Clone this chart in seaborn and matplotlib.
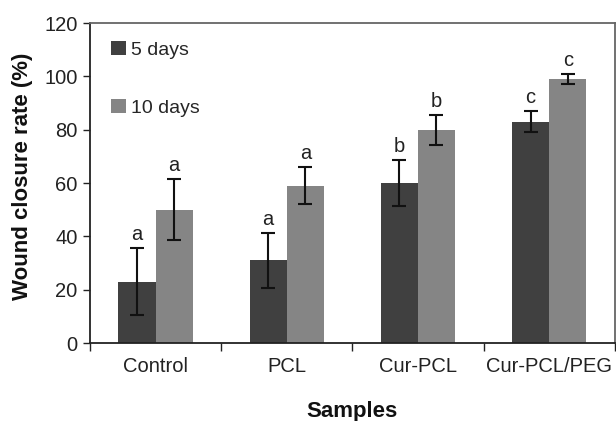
import matplotlib
matplotlib.use("Agg")
import matplotlib.pyplot as plt
import seaborn as sns
import pandas as pd
import numpy as np
from matplotlib.ticker import FixedLocator

categories = ["Control", "PCL", "Cur-PCL", "Cur-PCL/PEG"]
series = ["5 days", "10 days"]
vals_5 = [23, 31, 60, 83]
vals_10 = [50, 59, 80, 99]
err_5 = [12.5, 10.2, 8.7, 3.9]
err_10 = [11.5, 6.9, 5.6, 1.9]
letters_5 = ["a", "a", "b", "c"]
letters_10 = ["a", "a", "b", "c"]
yticks = [0, 20, 40, 60, 80, 100, 120]

sns.set_theme(style="white")
plt.rcParams['font.family'] = ['Liberation Sans', 'DejaVu Sans']

df = pd.DataFrame({
    "Samples": categories * 2,
    "Series": [series[0]] * 4 + [series[1]] * 4,
    "Rate": vals_5 + vals_10,
})

fig = plt.figure(figsize=(6.16, 4.21), dpi=100)
ax = fig.add_axes([0.146, 0.185, 0.852, 0.76])
colors = ["#404040", "#858585"]
sns.barplot(data=df, x="Samples", y="Rate", hue="Series", order=categories,
            hue_order=series, palette=colors, width=0.565, errorbar=None,
            saturation=1, ax=ax, edgecolor=None, linewidth=0)

patches = [p for p in ax.patches if p.get_height() > 0]
errs = err_5 + err_10
labs = letters_5 + letters_10
for p, e, l in zip(patches, errs, labs):
    cx = p.get_x() + p.get_width() / 2
    h = p.get_height()
    ax.errorbar(cx, h, yerr=e, fmt="none", ecolor="#111111", elinewidth=1.5,
                capsize=5, capthick=1.5, zorder=5)
    ax.text(cx, h + e + 1.5, l, ha="center", va="bottom", fontsize=14.5, color="#222222")

ax.set_xlim(-0.5, 3.5)
ax.set_ylim(0, 120)
ax.set_yticks(yticks)
ax.tick_params(axis="y", which="major", direction="out", length=5, width=1,
               labelsize=14.5, left=True, pad=4)
ax.tick_params(axis="x", which="major", length=0, labelsize=14.5, pad=10)
ax.xaxis.set_minor_locator(FixedLocator([-0.5, 0.5, 1.5, 2.5, 3.5]))
ax.tick_params(axis="x", which="minor", direction="out", length=6, width=1,
               bottom=True, color="#222222")
ax.tick_params(colors="#222222", which="both")
for lbl in ax.get_xticklabels() + ax.get_yticklabels():
    lbl.set_color("#222222")

ax.set_xlabel("Samples", fontsize=16, fontweight="bold", labelpad=18, color="#111111")
ax.set_ylabel("Wound closure rate (%)", fontsize=16, fontweight="bold", color="#111111")
ax.yaxis.set_label_coords(-0.108, 0.52)

for s in ["left", "bottom"]:
    ax.spines[s].set_color("#222222")
    ax.spines[s].set_linewidth(1.3)
for s in ["top", "right"]:
    ax.spines[s].set_color("#666666")
    ax.spines[s].set_linewidth(1.3)

leg = ax.legend(loc="upper left", bbox_to_anchor=(0.026, 0.968), frameon=False,
                fontsize=14, handlelength=0.75, handleheight=0.75, handletextpad=0.25,
                labelspacing=2.05, borderaxespad=0)

fig.savefig("out.png", dpi=100)
